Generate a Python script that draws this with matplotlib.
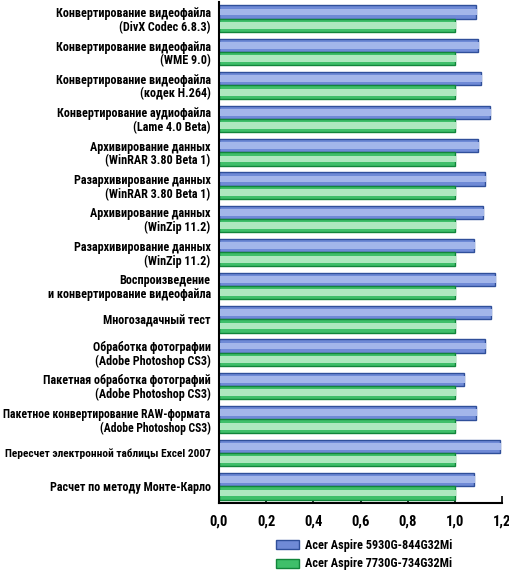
import matplotlib
matplotlib.use("Agg")
import matplotlib.pyplot as plt
from matplotlib import font_manager as fm
from matplotlib.ft2font import FT2Font
import numpy as np

categories = [
    "Конвертирование видеофайла\n(DivX Codec 6.8.3)",
    "Конвертирование видеофайла\n(WME 9.0)",
    "Конвертирование видеофайла\n(кодек H.264)",
    "Конвертирование аудиофайла\n(Lame 4.0 Beta)",
    "Архивирование данных\n(WinRAR 3.80 Beta 1)",
    "Разархивирование данных\n(WinRAR 3.80 Beta 1)",
    "Архивирование данных\n(WinZip 11.2)",
    "Разархивирование данных\n(WinZip 11.2)",
    "Воспроизведение\nи конвертирование видеофайла",
    "Многозадачный тест",
    "Обработка фотографии\n(Adobe Photoshop CS3)",
    "Пакетная обработка фотографий\n(Adobe Photoshop CS3)",
    "Пакетное конвертирование RAW-формата\n(Adobe Photoshop CS3)",
    "Пересчет электронной таблицы Excel 2007",
    "Расчет по методу Монте-Карло",
]
series_names = ["Acer Aspire 5930G-844G32Mi", "Acer Aspire 7730G-734G32Mi"]
values_5930 = [1.09, 1.10, 1.11, 1.15, 1.10, 1.13, 1.12, 1.08, 1.17, 1.155, 1.13, 1.04, 1.09, 1.19, 1.08]
values_7730 = [1.0] * 15
xticks = [0.0, 0.2, 0.4, 0.6, 0.8, 1.0, 1.2]
xtick_labels = ["0,0", "0,2", "0,4", "0,6", "0,8", "1,0", "1,2"]

# choose a condensed family with Cyrillic glyphs
candidates = ["Roboto Condensed", "PT Sans Narrow", "Fira Sans Condensed",
              "Open Sans Condensed", "Ubuntu Condensed", "Arial Narrow",
              "Liberation Sans Narrow", "Fira Sans Extra Condensed", "Roboto"]
avail = {}
for f in fm.fontManager.ttflist:
    avail.setdefault(f.name, []).append(f)
chosen = "DejaVu Sans"
for c in candidates:
    if c in avail:
        ok = False
        for f in avail[c]:
            try:
                if FT2Font(f.fname).get_char_index(ord("Ж")):
                    ok = True
                    break
            except Exception:
                pass
        if ok:
            chosen = c
            break

font = dict(family=[chosen, "DejaVu Sans"], weight="bold")

fig = plt.figure(figsize=(5.10, 5.71), dpi=100)
ax = fig.add_axes([219/510, 1-503/571, (502-219)/510, (503-2)/571])

y = np.arange(len(categories))
h = 0.4
styles = [
    dict(face="#6f8ad6", light="#a3b6ea", edge="#2f4f9a"),
    dict(face="#3fbf6a", light="#aee8bf", edge="#11853a"),
]
handles = []
for k, (vals, off) in enumerate([(values_5930, -h/2), (values_7730, h/2)]):
    st = styles[k]
    b = ax.barh(y + off, vals, height=h, color=st["face"], edgecolor=st["edge"],
                linewidth=1.0, label=series_names[k], zorder=2)
    ax.barh(y + off, vals, height=h*0.5, color=st["light"], linewidth=0,
            zorder=3, left=0.004)
    handles.append(b)

ax.set_xlim(0, 1.2)
ax.set_ylim(len(categories) - 0.5, -0.5)
ax.set_yticks(y)
ax.set_yticklabels(categories, ha="right", fontsize=8.7, **font, linespacing=1.05)
ax.set_xticks(xticks)
ax.set_xticklabels(xtick_labels, fontsize=10.5, **font)
for s in ["top", "right"]:
    ax.spines[s].set_visible(False)
ax.spines["left"].set_linewidth(1.5)
ax.spines["bottom"].set_linewidth(1.5)
ax.tick_params(axis="y", direction="in", length=6, width=1.5, pad=6)
ax.tick_params(axis="x", direction="in", length=5, width=1.2, pad=8)

# shrink only labels that would run past the left edge of the figure
fig.canvas.draw()
renderer = fig.canvas.get_renderer()
for lab in ax.get_yticklabels():
    bb = lab.get_window_extent(renderer)
    if bb.x0 < 3:
        avail_w = bb.x1 - 3
        lab.set_fontsize(lab.get_fontsize() * avail_w / bb.width)

leg = fig.legend(handles, series_names, loc="upper left",
                 bbox_to_anchor=(276/510, 1-539/571), frameon=False,
                 borderpad=0, borderaxespad=0,
                 prop=dict(size=8.8, **font), handlelength=1.9, handleheight=0.8,
                 labelspacing=0.45, handletextpad=0.45)
fig.savefig("out.png", dpi=100)
